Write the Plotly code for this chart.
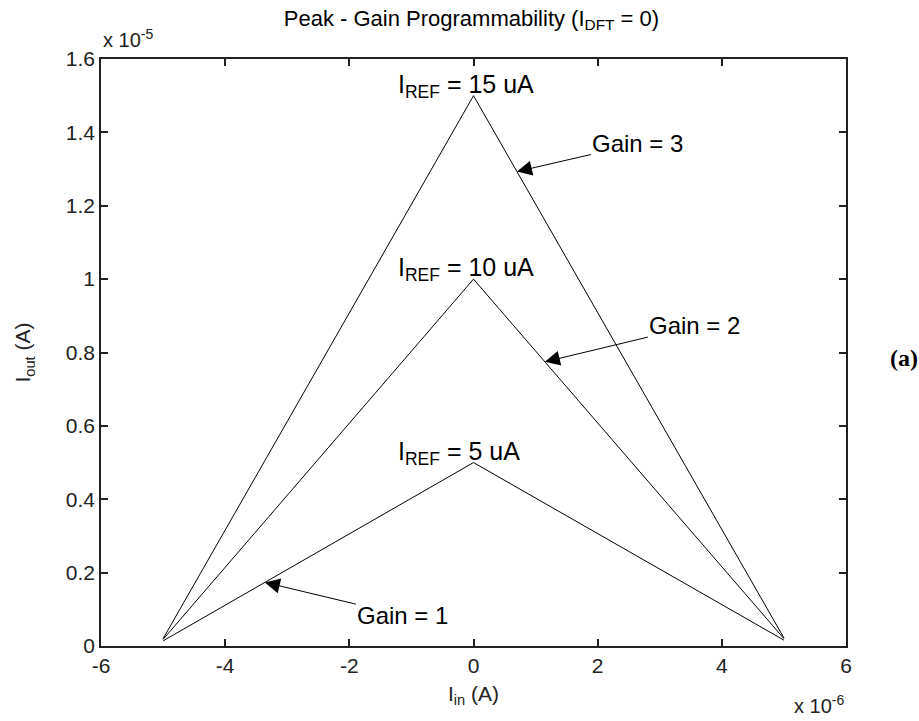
import plotly.graph_objects as go

# Input current sweep (A) and peak-shaped output for each reference current
i_in = [-5e-6, 0.0, 5e-6]
iout_gain3 = [0.020e-5, 1.50e-5, 0.022e-5]
iout_gain2 = [0.018e-5, 1.00e-5, 0.020e-5]
iout_gain1 = [0.014e-5, 0.50e-5, 0.016e-5]

x_ticks = [-6e-6, -4e-6, -2e-6, 0.0, 2e-6, 4e-6, 6e-6]
x_tick_text = ["-6", "-4", "-2", "0", "2", "4", "6"]
y_ticks = [0, 0.2e-5, 0.4e-5, 0.6e-5, 0.8e-5, 1.0e-5, 1.2e-5, 1.4e-5, 1.6e-5]
y_tick_text = ["0", "0.2", "0.4", "0.6", "0.8", "1", "1.2", "1.4", "1.6"]

# Reference-current labels placed at each peak
iref_labels = ["I<sub>REF</sub> = 15 uA", "I<sub>REF</sub> = 10 uA", "I<sub>REF</sub> = 5 uA"]
iref_peaks = [1.50e-5, 1.00e-5, 0.50e-5]

# Gain call-outs: arrow tip position on the falling/rising edge
gain_labels = ["Gain = 3", "Gain = 2", "Gain = 1"]
gain_tip_x = [0.70e-6, 1.15e-6, -3.36e-6]

FONT = "Liberation Sans, Arial, sans-serif"
INK = "#222"

fig = go.Figure()
for y in (iout_gain3, iout_gain2, iout_gain1):
    fig.add_trace(go.Scatter(x=i_in, y=y, mode="lines",
                             line=dict(color="black", width=1), showlegend=False))


def on_curve(xv, ys):
    # linear position along the drawn polyline
    if xv <= 0:
        return ys[0] + (ys[1] - ys[0]) * (xv - i_in[0]) / (i_in[1] - i_in[0])
    return ys[1] + (ys[2] - ys[1]) * (xv - i_in[1]) / (i_in[2] - i_in[1])


curves = [iout_gain3, iout_gain2, iout_gain1]
offsets = [(121, -28), (150, -36), (138, 33)]
for lbl, tx, ys, (axp, ayp) in zip(gain_labels, gain_tip_x, curves, offsets):
    fig.add_annotation(x=tx, y=on_curve(tx, ys), xref="x", yref="y",
                       text=lbl, showarrow=True, ax=axp, ay=ayp,
                       arrowhead=2, arrowsize=3, arrowwidth=1, arrowcolor="black",
                       font=dict(family=FONT, size=24, color="black"))

for lbl, pk in zip(iref_labels, iref_peaks):
    fig.add_annotation(x=-1.25e-6, y=pk, xref="x", yref="y", text=lbl,
                       showarrow=False, xanchor="left", yanchor="middle",
                       yshift=10,
                       font=dict(family=FONT, size=25, color="black"))

fig.update_layout(
    width=919, height=721,
    margin=dict(l=101, r=73, t=59, b=75, autoexpand=False),
    paper_bgcolor="white", plot_bgcolor="white",
    title=dict(text="Peak - Gain Programmability (I<sub>DFT</sub> = 0)",
               x=0.513, xanchor="center", y=0.975, yanchor="middle",
               font=dict(family=FONT, size=22, color="black")),
    font=dict(family=FONT, size=21, color=INK),
)

fig.update_xaxes(range=[-6e-6, 6e-6], tickvals=x_ticks, ticktext=x_tick_text,
                 ticks="inside", ticklen=7, tickwidth=1.5, tickcolor=INK,
                 showline=True, linecolor=INK, linewidth=1.5, mirror="ticks",
                 showgrid=False, zeroline=False,
                 tickfont=dict(family=FONT, size=21, color=INK),
                 title=dict(text="I<sub>in</sub> (A)", standoff=10,
                            font=dict(family=FONT, size=21, color=INK)))
fig.update_yaxes(range=[0, 1.6e-5], tickvals=y_ticks, ticktext=y_tick_text,
                 ticks="inside", ticklen=7, tickwidth=1.5, tickcolor=INK,
                 showline=True, linecolor=INK, linewidth=1.5, mirror="ticks",
                 showgrid=False, zeroline=False,
                 tickfont=dict(family=FONT, size=21, color=INK),
                 title=dict(text="I<sub>out</sub> (A)", standoff=29,
                            font=dict(family=FONT, size=21, color=INK)))

# Axis exponent multipliers
fig.add_annotation(x=0.0, y=1.0, xref="paper", yref="paper", xanchor="left",
                   yanchor="bottom", yshift=6, showarrow=False,
                   text="x 10<sup>-5</sup>", font=dict(family=FONT, size=20, color=INK))
fig.add_annotation(x=1.0, y=0.0, xref="paper", yref="paper", xanchor="right",
                   yanchor="top", yshift=-44, showarrow=False,
                   text="x 10<sup>-6</sup>", font=dict(family=FONT, size=20, color=INK))

# Panel tag
fig.add_annotation(x=1.0, y=0.5, xref="paper", yref="paper", xanchor="left",
                   xshift=42, yshift=-5, showarrow=False, text="<b>(a)</b>",
                   font=dict(family="Liberation Serif, Times New Roman, serif",
                             size=24, color="black"))

fig.write_html("out.html")
